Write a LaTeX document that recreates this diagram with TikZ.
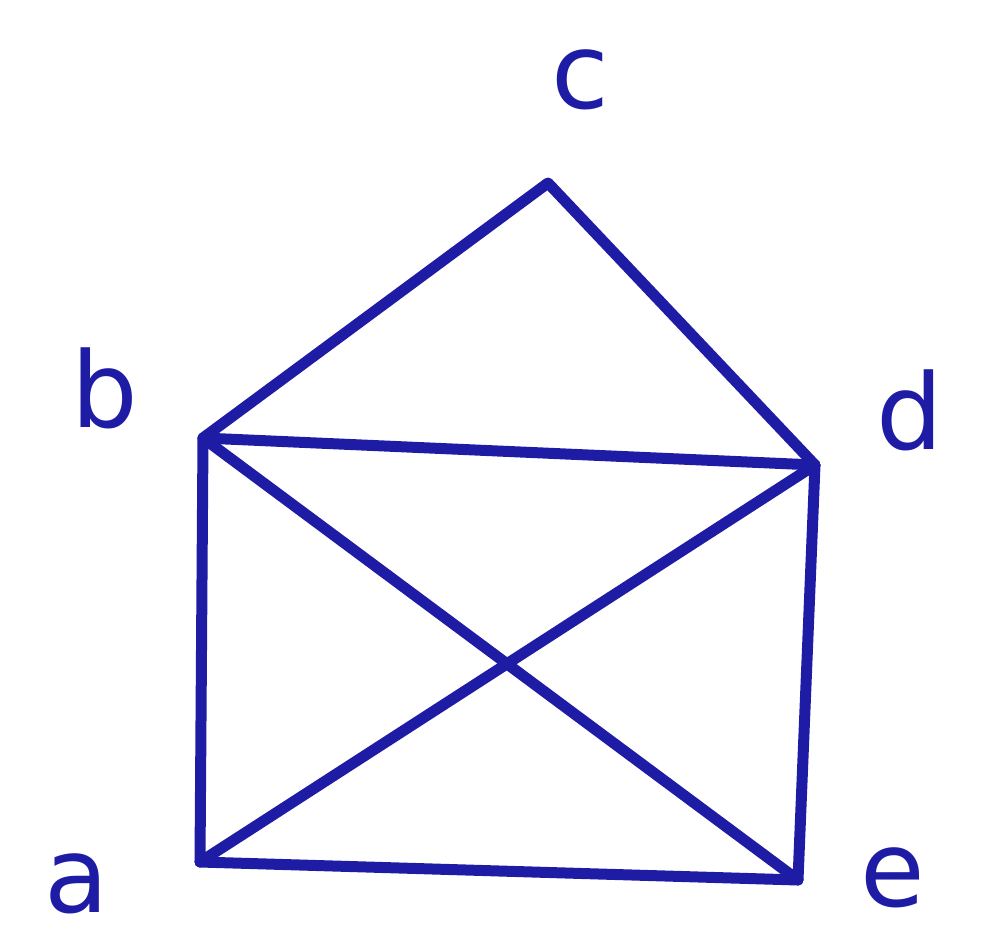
\documentclass[tikz,border=0pt]{standalone}
\usepackage{fontspec}
\setmainfont{DejaVu Sans}
\definecolor{handblue}{RGB}{30,28,165}
\begin{document}
\begin{tikzpicture}[x=1pt,y=-1pt,
  edge/.style={handblue,line width=11pt,line cap=round,line join=round},
  lbl/.style={text=handblue,font=\fontsize{105}{105}\selectfont,inner sep=0pt}]
\useasboundingbox (0,0) rectangle (983,939);
\coordinate (c) at (548,183);
\coordinate (b) at (203,438);
\coordinate (d) at (815,465);
\coordinate (a) at (200,862);
\coordinate (e) at (798,880);
\draw[edge] (b) -- (c) -- (d);
\draw[edge] (b) -- (d);
\draw[edge] (b) -- (a);
\draw[edge] (d) -- (e);
\draw[edge] (a) -- (e);
\draw[edge] (b) -- (e);
\draw[edge] (a) -- (d);
\node[lbl] (lc) at (580,80) {c};
\node[lbl] (lb) at (105,388) {b};
\node[lbl] (ld) at (910,410) {d};
\node[lbl] (la) at (77,884) {a};
\node[lbl] (le) at (893,878) {e};
\end{tikzpicture}
\end{document}
